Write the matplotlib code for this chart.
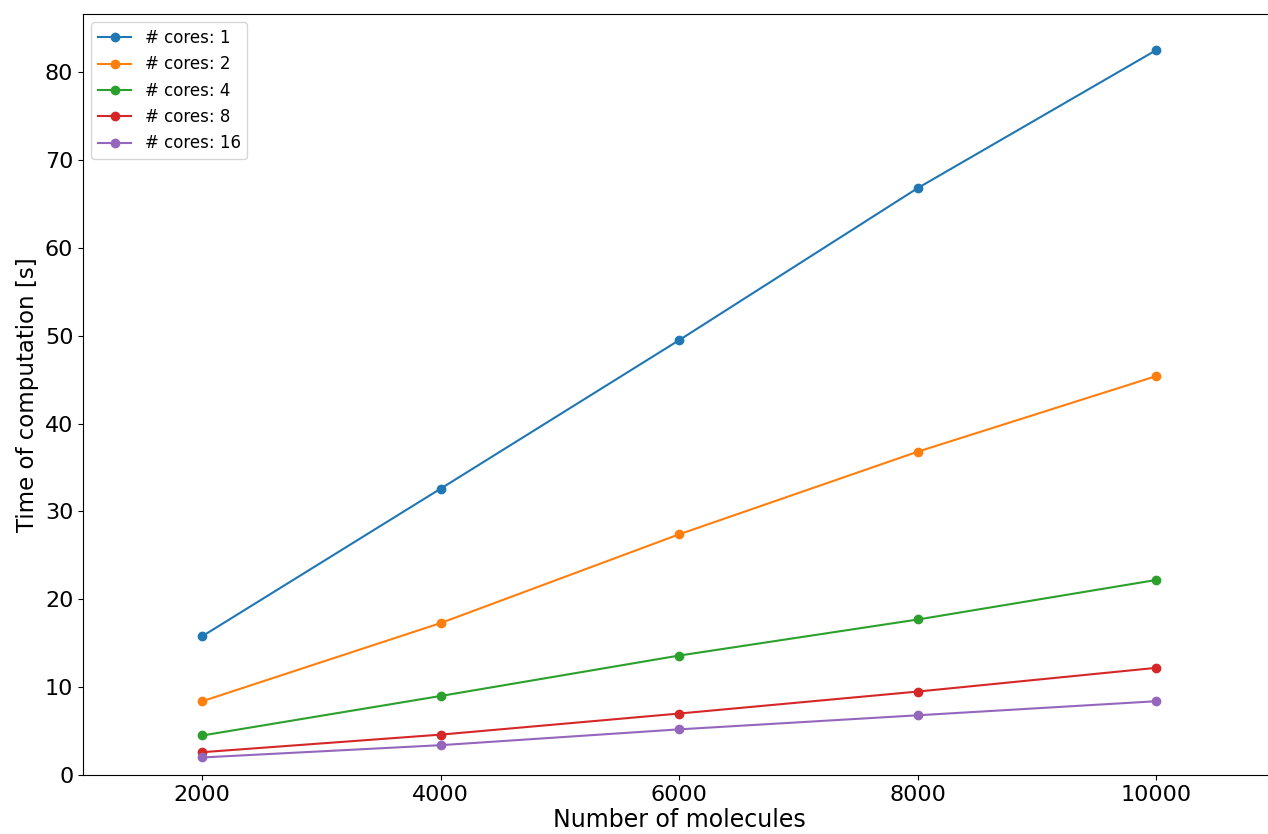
import matplotlib
matplotlib.use("Agg")
import matplotlib.pyplot as plt

molecules = [2000, 4000, 6000, 8000, 10000]
cores = [1, 2, 4, 8, 16]
times = {
  1: [15.8, 32.6, 49.5, 66.8, 82.5],
  2: [8.4, 17.3, 27.4, 36.8, 45.4],
  4: [4.5, 9.0, 13.6, 17.7, 22.2],
  8: [2.6, 4.6, 7.0, 9.5, 12.2],
  16: [2.0, 3.4, 5.2, 6.8, 8.4],
}

fig = plt.figure(figsize=(12.68, 8.34), dpi=100)
ax = fig.add_axes([0.0655, 0.0707, 0.9405, 0.9125])
for c in cores:
  ax.plot(molecules, times[c], marker='o', markersize=6, linewidth=1.5, label="# cores: " + str(c))

ax.set_xlim(1000, 11000)
ax.set_ylim(0, 86.6)
ax.set_xticks(molecules)
ax.tick_params(labelsize=16)
ax.set_xlabel("Number of molecules", fontsize=17, labelpad=2)
ax.set_ylabel("Time of computation [s]", fontsize=16.5, labelpad=4)
ax.legend(loc='upper left', fontsize=12)

fig.savefig("out.png", dpi=100)
